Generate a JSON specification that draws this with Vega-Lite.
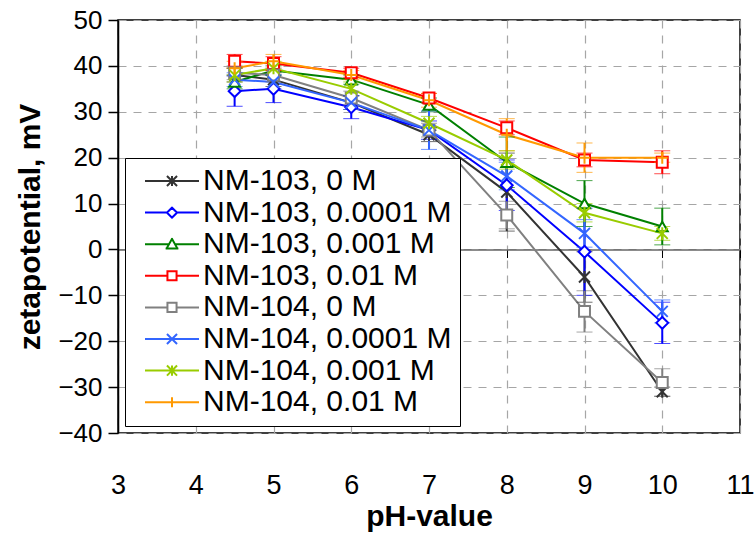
{
  "$schema": "https://vega.github.io/schema/vega-lite/v6.json",
  "width": 622,
  "height": 413,
  "autosize": {"type": "none"},
  "padding": {"left": 118, "top": 20, "right": 15, "bottom": 100},
  "background": "white",
  "config": {
    "font": "Liberation Sans",
    "view": {"stroke": "black", "strokeWidth": 1.5},
    "axis": {"labelColor": "black", "titleColor": "black", "labelFont": "Liberation Sans", "titleFont": "Liberation Sans"},
    "point": {"filled": false, "fill": "white", "strokeWidth": 2, "size": 120, "opacity": 1}
  },
  "data": {
    "values": [
      {"series": "NM-103, 0 M", "pH": 4.5, "z": 38, "lo": 36.5, "hi": 39.5},
      {"series": "NM-103, 0 M", "pH": 5, "z": 37, "lo": 35.5, "hi": 38.5},
      {"series": "NM-103, 0 M", "pH": 6, "z": 32, "lo": 30.5, "hi": 33.5},
      {"series": "NM-103, 0 M", "pH": 7, "z": 25, "lo": 23.5, "hi": 26.5},
      {"series": "NM-103, 0 M", "pH": 8, "z": 12.5, "lo": 4, "hi": 21},
      {"series": "NM-103, 0 M", "pH": 9, "z": -6, "lo": -11.5, "hi": -0.5},
      {"series": "NM-103, 0 M", "pH": 10, "z": -31, "lo": -32, "hi": -30},
      {"series": "NM-103, 0.0001 M", "pH": 4.5, "z": 34.5, "lo": 31.2, "hi": 37.8},
      {"series": "NM-103, 0.0001 M", "pH": 5, "z": 35, "lo": 32, "hi": 38},
      {"series": "NM-103, 0.0001 M", "pH": 6, "z": 31, "lo": 28.5, "hi": 33.5},
      {"series": "NM-103, 0.0001 M", "pH": 7, "z": 26, "lo": 24, "hi": 28},
      {"series": "NM-103, 0.0001 M", "pH": 8, "z": 14, "lo": 8.5, "hi": 19.5},
      {"series": "NM-103, 0.0001 M", "pH": 9, "z": -0.5, "lo": -10, "hi": 9},
      {"series": "NM-103, 0.0001 M", "pH": 10, "z": -16, "lo": -20.5, "hi": -11.5},
      {"series": "NM-103, 0.001 M", "pH": 4.5, "z": 36.5, "lo": 35, "hi": 38},
      {"series": "NM-103, 0.001 M", "pH": 5, "z": 39, "lo": 38, "hi": 40},
      {"series": "NM-103, 0.001 M", "pH": 6, "z": 37, "lo": 36, "hi": 38},
      {"series": "NM-103, 0.001 M", "pH": 7, "z": 31.5, "lo": 30, "hi": 33},
      {"series": "NM-103, 0.001 M", "pH": 8, "z": 19, "lo": 13.5, "hi": 24.5},
      {"series": "NM-103, 0.001 M", "pH": 9, "z": 10, "lo": 5, "hi": 15},
      {"series": "NM-103, 0.001 M", "pH": 10, "z": 5, "lo": 1, "hi": 9},
      {"series": "NM-103, 0.01 M", "pH": 4.5, "z": 41, "lo": 39.5, "hi": 42.5},
      {"series": "NM-103, 0.01 M", "pH": 5, "z": 40.5, "lo": 39, "hi": 42},
      {"series": "NM-103, 0.01 M", "pH": 6, "z": 38.5, "lo": 37.5, "hi": 39.5},
      {"series": "NM-103, 0.01 M", "pH": 7, "z": 33, "lo": 32, "hi": 34},
      {"series": "NM-103, 0.01 M", "pH": 8, "z": 26.5, "lo": 25, "hi": 28},
      {"series": "NM-103, 0.01 M", "pH": 9, "z": 19.5, "lo": 18, "hi": 21},
      {"series": "NM-103, 0.01 M", "pH": 10, "z": 19, "lo": 16.5, "hi": 21.5},
      {"series": "NM-104, 0 M", "pH": 4.5, "z": 38.5, "lo": 37, "hi": 40},
      {"series": "NM-104, 0 M", "pH": 5, "z": 38, "lo": 36.5, "hi": 39.5},
      {"series": "NM-104, 0 M", "pH": 6, "z": 33, "lo": 31.5, "hi": 34.5},
      {"series": "NM-104, 0 M", "pH": 7, "z": 26, "lo": 24.5, "hi": 27.5},
      {"series": "NM-104, 0 M", "pH": 8, "z": 7.5, "lo": 4.5, "hi": 10.5},
      {"series": "NM-104, 0 M", "pH": 9, "z": -13.5, "lo": -18, "hi": -9},
      {"series": "NM-104, 0 M", "pH": 10, "z": -29, "lo": -32, "hi": -26},
      {"series": "NM-104, 0.0001 M", "pH": 4.5, "z": 37, "lo": 35.5, "hi": 38.5},
      {"series": "NM-104, 0.0001 M", "pH": 5, "z": 36.5, "lo": 35, "hi": 38},
      {"series": "NM-104, 0.0001 M", "pH": 6, "z": 32, "lo": 30.5, "hi": 33.5},
      {"series": "NM-104, 0.0001 M", "pH": 7, "z": 26, "lo": 21.8, "hi": 30.2},
      {"series": "NM-104, 0.0001 M", "pH": 8, "z": 16, "lo": 13, "hi": 19},
      {"series": "NM-104, 0.0001 M", "pH": 9, "z": 3.5, "lo": 0.5, "hi": 6.5},
      {"series": "NM-104, 0.0001 M", "pH": 10, "z": -13.5, "lo": -16, "hi": -11},
      {"series": "NM-104, 0.001 M", "pH": 4.5, "z": 38, "lo": 36.5, "hi": 39.5},
      {"series": "NM-104, 0.001 M", "pH": 5, "z": 39.5, "lo": 38, "hi": 41},
      {"series": "NM-104, 0.001 M", "pH": 6, "z": 35, "lo": 33.5, "hi": 36.5},
      {"series": "NM-104, 0.001 M", "pH": 7, "z": 27.5, "lo": 26, "hi": 29},
      {"series": "NM-104, 0.001 M", "pH": 8, "z": 19.5, "lo": 17.5, "hi": 21.5},
      {"series": "NM-104, 0.001 M", "pH": 9, "z": 8, "lo": 6, "hi": 10},
      {"series": "NM-104, 0.001 M", "pH": 10, "z": 3.5, "lo": 2, "hi": 5},
      {"series": "NM-104, 0.01 M", "pH": 4.5, "z": 39.5, "lo": 38, "hi": 41},
      {"series": "NM-104, 0.01 M", "pH": 5, "z": 41, "lo": 39.5, "hi": 42.5},
      {"series": "NM-104, 0.01 M", "pH": 6, "z": 38, "lo": 37, "hi": 39},
      {"series": "NM-104, 0.01 M", "pH": 7, "z": 32.5, "lo": 31, "hi": 34},
      {"series": "NM-104, 0.01 M", "pH": 8, "z": 25, "lo": 21.5, "hi": 28.5},
      {"series": "NM-104, 0.01 M", "pH": 9, "z": 20, "lo": 16.8, "hi": 23.2},
      {"series": "NM-104, 0.01 M", "pH": 10, "z": 20, "lo": 19, "hi": 21}
    ]
  },
  "encoding": {
    "x": {
      "field": "pH", "type": "quantitative",
      "scale": {"domain": [3, 11], "nice": false, "zero": false},
      "axis": {
        "title": "pH-value", "titleFontSize": 30, "titleFontWeight": "bold", "titlePadding": 52,
        "values": [3, 4, 5, 6, 7, 8, 9, 10, 11], "format": "d",
        "labelFontSize": 27, "labelPadding": 215, "labelFlush": false, "labelOverlap": false,
        "offset": -183.5, "domainColor": "#666666", "domainWidth": 1.5,
        "tickColor": "black", "tickSize": 8, "tickWidth": 1,
        "grid": true, "gridDash": [8, 7], "gridColor": "#a6a6a6", "gridWidth": 1.2
      }
    },
    "y": {"field": "z", "type": "quantitative", "title": "zetapotential, mV"},
    "color": {
      "field": "series", "type": "nominal",
      "scale": {
        "domain": ["NM-103, 0 M", "NM-103, 0.0001 M", "NM-103, 0.001 M", "NM-103, 0.01 M", "NM-104, 0 M", "NM-104, 0.0001 M", "NM-104, 0.001 M", "NM-104, 0.01 M"],
        "range": ["#333333", "#0000ff", "#008000", "#ff0000", "#808080", "#3366ff", "#99cc00", "#ff9900"]
      },
      "legend": {
        "orient": "none", "legendX": 7, "legendY": 138, "title": null,
        "strokeColor": "black", "fillColor": "white", "padding": 8,
        "labelFontSize": 30, "labelColor": "black", "labelLimit": 400, "labelOffset": 40,
        "symbolSize": 576, "symbolStrokeWidth": 2, "rowPadding": 1.6,
        "symbolFillColor": "white", "symbolOpacity": 1
      }
    }
  },
  "layer": [
    {
      "mark": {"type": "line", "strokeWidth": 2},
      "encoding": {
        "y": {
          "field": "z", "type": "quantitative", "title": "zetapotential, mV",
          "scale": {"domain": [-40, 50], "nice": false, "zero": false},
          "axis": {
            "values": [-40, -30, -20, -10, 0, 10, 20, 30, 40, 50],
            "titleFontSize": 30, "titleFontWeight": "bold", "titlePadding": 12,
            "labelFontSize": 26, "labelPadding": 6,
            "domainColor": "black", "domainWidth": 1.5,
            "tickColor": "black", "tickSize": 10, "tickWidth": 1.5,
            "grid": true, "gridDash": [8, 7], "gridColor": "#a6a6a6", "gridWidth": 1.2
          }
        }
      }
    },
    {
      "mark": {"type": "errorbar", "ticks": {"size": 16, "strokeWidth": 2}, "rule": {"strokeWidth": 2}},
      "encoding": {
        "y": {"field": "lo", "type": "quantitative", "title": "zetapotential, mV"},
        "y2": {"field": "hi"},
        "color": {"field": "series", "type": "nominal", "legend": null}
      }
    },
    {
      "transform": [{"filter": {"field": "series", "equal": "NM-103, 0 M"}}],
      "mark": {"type": "point", "shape": "M-1,-1L1,1M-1,1L1,-1M0,-1.1V1.1"}
    },
    {
      "transform": [{"filter": {"field": "series", "equal": "NM-103, 0.0001 M"}}],
      "mark": {"type": "point", "shape": "diamond", "size": 140}
    },
    {
      "transform": [{"filter": {"field": "series", "equal": "NM-103, 0.001 M"}}],
      "mark": {"type": "point", "shape": "triangle-up"}
    },
    {
      "transform": [{"filter": {"field": "series", "equal": "NM-103, 0.01 M"}}],
      "mark": {"type": "point", "shape": "square"}
    },
    {
      "transform": [{"filter": {"field": "series", "equal": "NM-104, 0 M"}}],
      "mark": {"type": "point", "shape": "square"}
    },
    {
      "transform": [{"filter": {"field": "series", "equal": "NM-104, 0.0001 M"}}],
      "mark": {"type": "point", "shape": "M-1,-1L1,1M-1,1L1,-1"}
    },
    {
      "transform": [{"filter": {"field": "series", "equal": "NM-104, 0.001 M"}}],
      "mark": {"type": "point", "shape": "M-1,-1L1,1M-1,1L1,-1M0,-1.1V1.1"}
    },
    {
      "transform": [{"filter": {"field": "series", "equal": "NM-104, 0.01 M"}}],
      "mark": {"type": "point", "shape": "M-1,0H1M0,-1.1V1.1"}
    },
    {
      "transform": [{"filter": "datum.pH > 100"}],
      "mark": {"type": "point"},
      "encoding": {
        "shape": {
          "field": "series", "type": "nominal",
          "scale": {
            "domain": ["NM-103, 0 M", "NM-103, 0.0001 M", "NM-103, 0.001 M", "NM-103, 0.01 M", "NM-104, 0 M", "NM-104, 0.0001 M", "NM-104, 0.001 M", "NM-104, 0.01 M"],
            "range": [
              "M-1,0M-0.25,0H4.25M1.58,-0.42L2.42,0.42M1.58,0.42L2.42,-0.42M2,-0.42V0.42",
              "M-1,0M-0.25,0H1.58M2.42,0H4.25M1.97,-0.45L2.45,0.03M2.45,-0.03L1.97,0.45M2.03,0.45L1.55,-0.03M1.55,0.03L2.03,-0.45",
              "M-1,0M-0.25,0H1.75M2.25,0H4.25M1.97,-0.5L2.48,0.41M2.53,0.36H1.47M1.52,0.41L2.03,-0.5",
              "M-1,0M-0.25,0H1.62M2.38,0H4.25M1.54,-0.38H2.46M2.38,-0.46V0.46M2.46,0.38H1.54M1.62,0.46V-0.46",
              "M-1,0M-0.25,0H1.62M2.38,0H4.25M1.54,-0.38H2.46M2.38,-0.46V0.46M2.46,0.38H1.54M1.62,0.46V-0.46",
              "M-1,0M-0.25,0H4.25M1.58,-0.42L2.42,0.42M1.58,0.42L2.42,-0.42",
              "M-1,0M-0.25,0H4.25M1.58,-0.42L2.42,0.42M1.58,0.42L2.42,-0.42M2,-0.42V0.42",
              "M-1,0M-0.25,0H4.25M2,-0.42V0.42"
            ]
          }
        }
      }
    }
  ]
}
